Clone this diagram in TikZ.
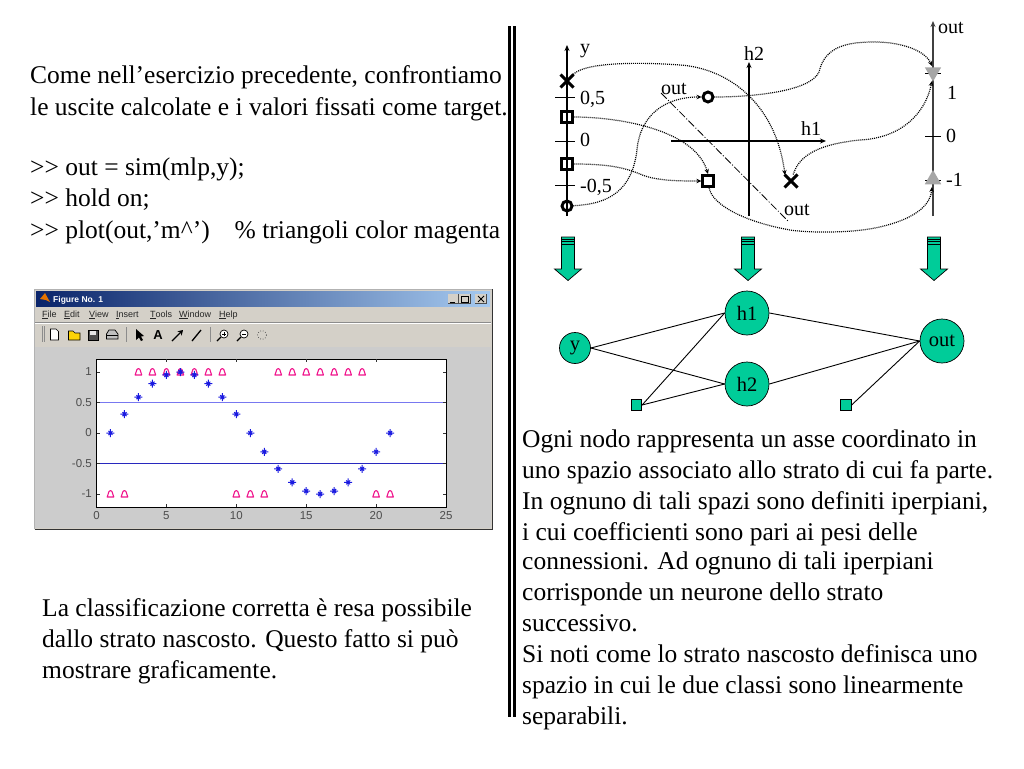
\documentclass[tikz,border=0pt]{standalone}
\usepackage{fontspec}
\setmainfont{Liberation Serif}
\newfontfamily\plotfont{Liberation Sans}
\usetikzlibrary{arrows.meta,shapes.geometric,shapes.misc,calc}
\definecolor{nodegreen}{HTML}{00CC99}
\definecolor{wingray}{HTML}{D4D0C8}
\definecolor{plotgray}{HTML}{CCCCCC}
\definecolor{tbarleft}{HTML}{0A246A}
\definecolor{tbarright}{HTML}{A6CAF0}
\definecolor{markmag}{HTML}{F0148C}
\definecolor{starblue}{HTML}{1A1AE0}
\tikzset{
  txt/.style={anchor=base west,inner sep=0pt,font=\fontsize{25.5}{25.5}\selectfont},
  lbl/.style={anchor=base west,inner sep=0pt,font=\fontsize{20}{20}\selectfont},
  axisln/.style={line width=1.3pt,-{Stealth[length=6pt,width=5pt]}},
  tickln/.style={line width=1pt},
  dots/.style={dash pattern=on 1pt off 1pt,line width=1.2pt,-{Stealth[length=5pt,width=4.5pt]}},
  mx/.style={cross out,draw,line width=3pt,minimum size=10pt,inner sep=0pt},
  msq/.style={rectangle,draw,line width=2.8pt,minimum size=10.5pt,inner sep=0pt},
  mci/.style={circle,draw,line width=2.9pt,minimum size=10pt,inner sep=0pt},
  mtri/.style={regular polygon,regular polygon sides=3,fill=black!35,minimum size=19pt,inner sep=0pt},
  gnode/.style={circle,draw,fill=nodegreen,line width=0.7pt,inner sep=0pt,font=\fontsize{20.5}{20.5}\selectfont},
  gsq/.style={rectangle,draw,fill=nodegreen,line width=0.7pt,minimum size=10.5pt,inner sep=0pt},
  edge/.style={line width=0.9pt},
  blockarrow/.style={draw=black,fill=nodegreen,line width=0.7pt},
  menu/.style={anchor=base west,inner sep=0pt,font=\plotfont\fontsize{9}{9}\selectfont,text=black!85},
  ticktxt/.style={inner sep=0pt,font=\plotfont\fontsize{11.5}{11.5}\selectfont,text=black!70},
}
\begin{document}
\begin{tikzpicture}[x=1pt,y=-1pt]
\useasboundingbox (0,0) rectangle (1024,768);
\fill[white] (0,0) rectangle (1024,768);

% --- left texts
\node[txt] (a1) at (30,83) {Come nell’esercizio precedente, confrontiamo};
\node[txt] (a2) at (30,115) {le uscite calcolate e i valori fissati come target.};
\node[txt] (a3) at (30,175) {{>}{>} out = sim(mlp,y);};
\node[txt] (a4) at (30,206) {{>}{>} hold on;};
\node[txt] (a5) at (30,238) {{>}{>} plot(out,’m\textasciicircum’)\hspace{25pt}\% triangoli color magenta};
\node[txt] (b1) at (42,616) {La classificazione corretta è resa possibile};
\node[txt] (b2) at (42,647) {dallo strato nascosto. Questo fatto si può};
\node[txt] (b3) at (42,678) {mostrare graficamente.};

% --- separator
\fill[black] (508,26) rectangle (510.5,717);
\fill[black] (512.5,26) rectangle (515.5,717);

% --- figure window
\fill[wingray] (34.5,289) rectangle (492,529);
\fill[plotgray] (35,347) rectangle (491,528);
\draw[black!80,line width=1pt] (34.5,529) -- (492,529) -- (492,289);
\draw[black!30,line width=0.6pt] (34.5,529) -- (34.5,289) -- (492,289);
\shade[left color=tbarleft,right color=tbarright] (36,291) rectangle (490,306);
\node[anchor=base west,inner sep=0pt,text=white,font=\plotfont\bfseries\fontsize{8.5}{8.5}\selectfont] (title) at (53,302) {Figure No. 1};
\fill[orange!90!black] (40,299) -- (45,293) -- (50,302) -- (46,300) -- cycle;
% window buttons
\foreach \xa/\xb/\nm in {448/458/mn,459/470/mx,475/486/cl}{
  \fill[wingray] (\xa,294) rectangle (\xb,303.5);
  \draw[black!70,line width=0.5pt] (\xa,303.5) -- (\xb,303.5) -- (\xb,294);
}
\draw[black,line width=1pt] (450,302) -- (455,302);
\draw[black,line width=0.8pt] (461,296) rectangle (468,302);
\draw[black,line width=1pt] (478,296) -- (484,302) (484,296) -- (478,302);
% menu
\node[menu] (m1) at (42,317) {\underline{F}ile};
\node[menu] (m2) at (64,317) {\underline{E}dit};
\node[menu] (m3) at (89,317) {\underline{V}iew};
\node[menu] (m4) at (116,317) {\underline{I}nsert};
\node[menu] (m5) at (150,317) {\underline{T}ools};
\node[menu] (m6) at (179,317) {\underline{W}indow};
\node[menu] (m7) at (219,317) {\underline{H}elp};
\draw[black!45,line width=0.5pt] (35,322) -- (491,322);
\draw[white,line width=0.5pt] (35,323) -- (491,323);
% toolbar
\draw[black!45,line width=0.6pt] (42,326) -- (42,342) (44.5,326) -- (44.5,342) (126,327) -- (126,342) (210,327) -- (210,342);
\draw[black,fill=white,line width=0.7pt] (50.5,329) -- (56,329) -- (58.5,331.5) -- (58.5,340) -- (50.5,340) -- cycle;
\draw[black,fill=yellow!70!orange,line width=0.7pt] (68.5,340) -- (68.5,331) -- (73,331) -- (75,333) -- (80,333) -- (80,340) -- cycle;
\draw[black,fill=black!70,line width=0.7pt] (88,330) rectangle (98,340);
\fill[white!80!gray] (90,331) rectangle (96,335);
\draw[black,fill=black!25,line width=0.7pt] (106.5,334) -- (109,330) -- (115,330) -- (118,334) -- (118,339) -- (106.5,339) -- cycle;
\draw[black,line width=0.7pt] (106.5,335) -- (118,335);
\fill[black] (136,329) -- (136,340) -- (139,337.5) -- (141,341) -- (143,340) -- (141,336.5) -- (144,336) -- cycle;
\node[inner sep=0pt,font=\plotfont\bfseries\fontsize{13}{13}\selectfont] (tA) at (158,335) {A};
\draw[black,line width=1.3pt,-{Stealth[length=5pt,width=6pt]}] (172,341) -- (183,330);
\draw[black,line width=1.3pt] (192,341) -- (201,330);
\foreach \cx in {223,243}{
  \draw[black,fill=white,line width=0.7pt] (\cx+1,334) circle (4);
  \draw[black,line width=1.2pt] (\cx-2,337) -- (\cx-6,341);
}
\draw[black,line width=0.6pt] (222,334) -- (226,334) (224,332) -- (224,336);
\draw[black,line width=0.6pt] (242,334) -- (246,334);
\draw[black!70,dotted,line width=0.7pt] (262,335) circle (4.5);

% plot area
\fill[white] (96.5,359) rectangle (446,507);
\def\px#1{96.5+13.98*#1}
\def\py#1{433-61*#1}
\draw[color={rgb,255:red,120;green,120;blue,240},line width=1.2pt] (96.5,402.5) -- (446,402.5);
\draw[color={rgb,255:red,40;green,40;blue,190},line width=0.9pt] (96.5,463.5) -- (446,463.5);
\draw[black,line width=0.9pt] (96.5,359) rectangle (446,507);
\foreach \t in {5,10,15,20}{
  \draw[black!80,line width=0.5pt] ({\px{\t}},507) -- ({\px{\t}},504) ({\px{\t}},359) -- ({\px{\t}},362);
}
\foreach \v in {-1,-0.5,0,0.5,1}{
  \draw[black!80,line width=0.5pt] (96.5,{\py{\v}}) -- (100,{\py{\v}}) (446,{\py{\v}}) -- (442.5,{\py{\v}});
}
\foreach \t in {0,5,10,15,20,25}{
  \node[ticktxt] (xt\t) at ({\px{\t}},516) {\t};
}
\foreach \v in {-1,-0.5,0,0.5,1}{
  \node[ticktxt,anchor=east] (yt\v) at (92,{\py{\v}}) {\v};
}
\foreach \t/\v in {3/1,4/1,5/1,6/1,7/1,8/1,9/1,13/1,14/1,15/1,16/1,17/1,18/1,19/1,1/-1,2/-1,10/-1,11/-1,12/-1,20/-1,21/-1}{
  \draw[markmag,line width=1.1pt,line join=round] ({\px{\t}-3.3},{\py{\v}+3}) -- ({\px{\t}-1.5},{\py{\v}-2.5}) -- ({\px{\t}},{\py{\v}-3.5}) -- ({\px{\t}+1.5},{\py{\v}-2.5}) -- ({\px{\t}+3.3},{\py{\v}+3}) -- cycle;
}
\foreach \t in {1,...,21}{
  \pgfmathsetmacro{\v}{sin(18*(\t-1))}
  \draw[starblue,line width=1pt] ({\px{\t}-4},{\py{\v}}) -- ({\px{\t}+4},{\py{\v}}) ({\px{\t}},{\py{\v}-4}) -- ({\px{\t}},{\py{\v}+4}) ({\px{\t}-2},{\py{\v}-2}) -- ({\px{\t}+2},{\py{\v}+2}) ({\px{\t}-2},{\py{\v}+2}) -- ({\px{\t}+2},{\py{\v}-2});
}

% --- top diagram: axes
\coordinate (yb) at (567,216); \coordinate (yt) at (567,45);
\coordinate (h2b) at (749,216); \coordinate (h2t) at (749,62);
\coordinate (h1l) at (671,141); \coordinate (h1r) at (826,141);
\coordinate (ob) at (933,216); \coordinate (ot) at (933,21);
\coordinate (dl) at (661,93); \coordinate (dr) at (788,221);
\draw[axisln] (yb) -- (yt);
\draw[axisln] (h2b) -- (h2t);
\draw[axisln] (h1l) -- (h1r);
\draw[axisln,line width=1.7pt,black!75] (ob) -- (ot);
\draw[dash pattern=on 8pt off 2pt on 1pt off 2pt,line width=0.8pt] (dl) -- (dr);
\foreach \yy in {97,141,185}{ \draw[tickln] (555,\yy) -- (575,\yy); }
\foreach \yy in {73,136,180}{ \draw[tickln] (925,\yy) -- (941,\yy); }

\node[lbl] (ly) at (580,54) {y};
\node[lbl] (l05) at (580,104) {0,5};
\node[lbl] (l0) at (580,146) {0};
\node[lbl] (lm05) at (580,192) {-0,5};
\node[lbl] (lh2) at (744,60) {h2};
\node[lbl] (lh1) at (801,135) {h1};
\node[lbl] (lo1) at (661,94) {out};
\node[lbl] (lo2) at (784,215) {out};
\node[lbl] (lo3) at (938,34) {out};
\node[lbl] (r1) at (947,99) {1};
\node[lbl] (r0) at (946,142) {0};
\node[lbl] (rm1) at (946,186) {-1};

\node[mx] (yx) at (567,81) {};
\node[msq] (ys1) at (567,117) {};
\node[msq] (ys2) at (567,164) {};
\node[mci] (yc) at (567,206) {};
\node[mci] (hc) at (708,97) {};
\node[msq] (hs) at (708,181) {};
\node[mx] (hx) at (791,181) {};
\node[mtri,shape border rotate=180] (td) at (933,72) {};
\node[mtri] (tu) at (933,179.5) {};

\draw[dots] (yx) .. controls (585,62) and (640,62) .. (680,65)
  .. controls (725,68) and (775,100) .. (785,175);
\draw[dots] (ys1) .. controls (620,117) and (695,130) .. (708,174);
\draw[dots] (ys2) .. controls (610,164) and (625,168) .. (640,174)
  .. controls (655,181) and (680,181) .. (hs);
\draw[dots] (yc) .. controls (610,204) and (632,190) .. (637,150)
  .. controls (640,115) and (665,97) .. (hc);
\draw[dots] (hc) .. controls (750,97) and (810,92) .. (819,72)
  .. controls (825,45) and (850,42) .. (875,42)
  .. controls (900,42) and (925,50) .. (932,66);
\draw[dots] (hx) .. controls (798,160) and (810,145) .. (860,140)
  .. controls (900,138) and (925,115) .. (932,81);
\draw[dots] (hs) .. controls (712,205) and (745,222) .. (790,230)
  .. controls (810,233) and (850,233) .. (875,228)
  .. controls (905,222) and (930,210) .. (932,187);

% --- block arrows
\foreach \cx/\nm in {568/ba,748/bb,934/bc}{
  \draw[blockarrow] (\cx-6.5,237) -- (\cx+6.5,237) -- (\cx+6.5,269) -- (\cx+13.5,269) -- (\cx,280.5) -- (\cx-13.5,269) -- (\cx-6.5,269) -- cycle;
  \draw[black,line width=0.7pt] (\cx-6.5,239) -- (\cx+6.5,239) (\cx-6.5,241) -- (\cx+6.5,241) (\cx-6.5,244) -- (\cx+6.5,244);
}

% --- network
\node[gnode,minimum size=31pt] (ny) at (575,348) {y};
\node[gnode,minimum size=44pt] (nh1) at (747,313) {h1};
\node[gnode,minimum size=44pt] (nh2) at (747,384) {h2};
\node[gnode,minimum size=44pt] (nout) at (942,341) {out};
\node[gsq] (s1) at (636.5,405) {};
\node[gsq] (s2) at (846,405) {};
\draw[edge] (ny.east) -- (nh1.west);
\draw[edge] (ny.east) -- (nh2.west);
\draw[edge] (s1.east) -- (nh1.west);
\draw[edge] (s1.east) -- (nh2.west);
\draw[edge] (nh1.east) -- (nout.west);
\draw[edge] (nh2.east) -- (nout.west);
\draw[edge] (s2.east) -- (nout.west);

% --- right text
\node[txt] (c1) at (522,447) {Ogni nodo rappresenta un asse coordinato in};
\node[txt] (c2) at (522,478) {uno spazio associato allo strato di cui fa parte.};
\node[txt] (c3) at (522,509) {In ognuno di tali spazi sono definiti iperpiani,};
\node[txt] (c4) at (522,540) {i cui coefficienti sono pari ai pesi delle};
\node[txt] (c5) at (522,569) {connessioni. Ad ognuno di tali iperpiani};
\node[txt] (c6) at (522,600) {corrisponde un neurone dello strato};
\node[txt] (c7) at (522,631) {successivo.};
\node[txt] (c8) at (522,662) {Si noti come lo strato nascosto definisca uno};
\node[txt] (c9) at (522,693) {spazio in cui le due classi sono linearmente};
\node[txt] (c10) at (522,724) {separabili.};
\end{tikzpicture}
\end{document}
